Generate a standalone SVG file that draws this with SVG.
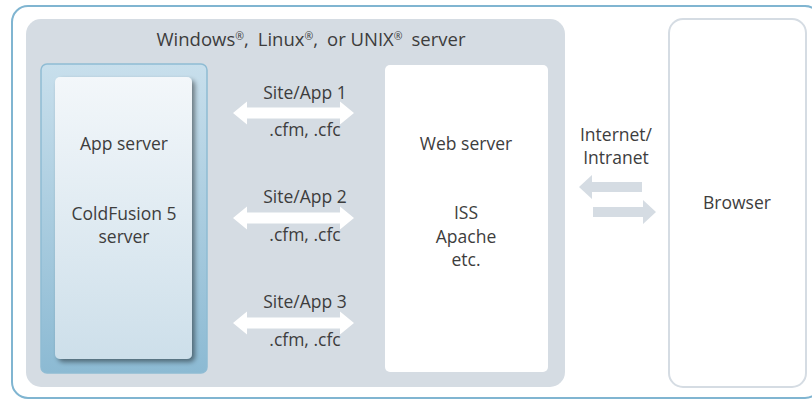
<svg xmlns="http://www.w3.org/2000/svg" width="812" height="401" viewBox="0 0 812 401">
<defs>
<style>
text{font-family:"Open Sans","Noto Sans","DejaVu Sans",sans-serif;fill:#3d3d3d;text-anchor:middle;font-size:17.5px}
.title{font-size:18.5px}
.sup{font-size:10.5px}
.dbl{fill:#fff}
.net{fill:#d5dce3}
</style>
<linearGradient id="gOuter" x1="0" y1="0" x2="0" y2="1">
<stop offset="0" stop-color="#c8dfec"/>
<stop offset="1" stop-color="#8cbad3"/>
</linearGradient>
<linearGradient id="gInner" x1="0" y1="0" x2="0" y2="1">
<stop offset="0" stop-color="#f3f7fa"/>
<stop offset="1" stop-color="#cddfea"/>
</linearGradient>
<filter id="sh" x="-20%" y="-20%" width="140%" height="140%">
<feGaussianBlur in="SourceAlpha" stdDeviation="2.5"/>
<feOffset dx="3" dy="3"/>
<feComponentTransfer><feFuncA type="linear" slope="0.45"/></feComponentTransfer>
<feMerge><feMergeNode/><feMergeNode in="SourceGraphic"/></feMerge>
</filter>
</defs>
<rect x="12" y="6" width="809" height="392" rx="16" fill="#fff" stroke="#80b5d1" stroke-width="2"/>
<g id="host">
<rect x="26" y="19" width="539" height="368" rx="15" fill="#d5dce3"/>
<text class="title" x="311" y="46">Windows<tspan class="sup" dy="-6.5">®</tspan><tspan dy="6.5">,</tspan><tspan dx="9">Linux</tspan><tspan class="sup" dy="-6.5">®</tspan><tspan dy="6.5">,</tspan><tspan dx="9">or UNIX</tspan><tspan class="sup" dy="-6.5">®</tspan><tspan dy="6.5" dx="9">server</tspan></text>
</g>
<g id="app-server">
<rect x="41" y="64" width="166" height="309" rx="6" fill="url(#gOuter)" stroke="#8fbcd4" stroke-width="1.5"/>
<rect x="55" y="77" width="137" height="282" rx="5" fill="url(#gInner)" filter="url(#sh)"/>
<text x="124" y="150">App server</text>
<text x="124" y="220">ColdFusion 5</text>
<text x="124" y="243">server</text>
</g>
<g id="web-server">
<rect x="385" y="65" width="163" height="307" rx="5" fill="#fff"/>
<text x="466" y="150">Web server</text>
<text x="466" y="219">ISS</text>
<text x="466" y="243">Apache</text>
<text x="466" y="266">etc.</text>
</g>
<g id="browser">
<rect x="669" y="19" width="137" height="368" rx="14" fill="#fff" stroke="#d5dce3" stroke-width="2"/>
<text x="737" y="209">Browser</text>
</g>
<g id="connectors">
<path class="dbl" d="M233 113 L247 101.5 L247 107.5 L340 107.5 L340 101.5 L354 113 L340 124.5 L340 118.5 L247 118.5 L247 124.5 Z"/>
<path class="dbl" d="M233 218 L247 206.5 L247 212.5 L340 212.5 L340 206.5 L354 218 L340 229.5 L340 223.5 L247 223.5 L247 229.5 Z"/>
<path class="dbl" d="M233 323 L247 311.5 L247 317.5 L340 317.5 L340 311.5 L354 323 L340 334.5 L340 328.5 L247 328.5 L247 334.5 Z"/>
<path class="net" d="M579 187 L592 175 L592 182 L642 182 L642 192 L592 192 L592 199 Z"/>
<path class="net" d="M656 212 L643 200 L643 207 L593 207 L593 217 L643 217 L643 224 Z"/>
<text x="305" y="99">Site/App 1</text>
<text x="305" y="136">.cfm, .cfc</text>
<text x="305" y="203">Site/App 2</text>
<text x="305" y="241">.cfm, .cfc</text>
<text x="305" y="308">Site/App 3</text>
<text x="305" y="346">.cfm, .cfc</text>
<text x="616" y="141">Internet/</text>
<text x="616" y="164">Intranet</text>
</g>
</svg>
